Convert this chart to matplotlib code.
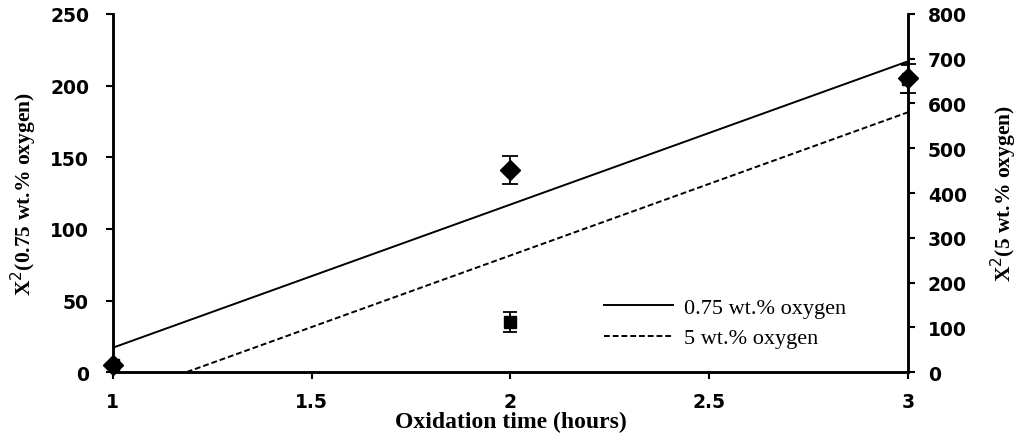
import numpy as np
import matplotlib
matplotlib.use("Agg")
import matplotlib.pyplot as plt

# Data
time_h = [1, 2, 3]
x2_low = [5, 141, 205]          # 0.75 wt.% oxygen (left axis)
x2_low_err = [0, 10, 10]
x2_high = [15, 112, 655]        # 5 wt.% oxygen (right axis)
x2_high_err = [0, 22, 32]
labels = ["0.75 wt.% oxygen", "5 wt.% oxygen"]
xticks = [1, 1.5, 2, 2.5, 3]
xticklabels = ["1", "1.5", "2", "2.5", "3"]
yticks_left = [0, 50, 100, 150, 200, 250]
yticks_right = [0, 100, 200, 300, 400, 500, 600, 700, 800]

fig = plt.figure(figsize=(10.24, 4.39), dpi=100)
ax = fig.add_axes([0.110, 0.150, 0.777, 0.816])
ax2 = ax.twinx()

serif = ["Liberation Serif", "DejaVu Serif"]

# linear fits
xs = np.array([min(time_h), max(time_h)], dtype=float)
p1 = np.polyfit(time_h, x2_low, 1)
p2 = np.polyfit(time_h, x2_high, 1)
l1, = ax.plot(xs, np.polyval(p1, xs), color="black", lw=1.4, label=labels[0])
l2, = ax2.plot(xs, np.polyval(p2, xs), color="black", lw=1.4, ls=(0, (3, 1.5)), label=labels[1])

ax2.errorbar(time_h, x2_high, yerr=x2_high_err, fmt="s", color="black", ms=8,
             capsize=5, elinewidth=1.3, capthick=1.3, zorder=3)
ax.errorbar(time_h, x2_low, yerr=x2_low_err, fmt="D", color="black", ms=10,
            capsize=6, elinewidth=1.3, capthick=1.3, zorder=3, clip_on=False)

ax.set_xlim(1, 3)
ax.set_ylim(0, 250)
ax2.set_ylim(0, 800)
ax.set_xticks(xticks)
ax.set_xticklabels(xticklabels)
ax.set_yticks(yticks_left)
ax2.set_yticks(yticks_right)

for a in (ax, ax2):
    a.spines["top"].set_visible(False)
    for s in a.spines.values():
        s.set_linewidth(1.8)
    a.tick_params(width=1.5, length=5, labelsize=13.5)
    for t in a.get_xticklabels() + a.get_yticklabels():
        t.set_fontweight("bold")
ax.tick_params(axis="y", pad=12)
ax2.tick_params(axis="y", pad=9)
ax.tick_params(axis="x", pad=9)

ax.set_xlabel("Oxidation time (hours)", family=serif, fontweight="bold", fontsize=17, labelpad=0)
ax.set_ylabel("X$^2$(0.75 wt.% oxygen)", family=serif, fontweight="bold", fontsize=15.5, labelpad=8)
ax2.set_ylabel("X$^2$(5 wt.% oxygen)", family=serif, fontweight="bold", fontsize=15.5, labelpad=16)

fig.legend(handles=[l1, l2], labels=labels, loc="upper left",
           bbox_to_anchor=(0.570, 0.366), frameon=False,
           prop={"family": serif, "size": 16}, handlelength=3.1,
           handletextpad=0.5, labelspacing=0.45)

fig.savefig("out.png", dpi=100)
